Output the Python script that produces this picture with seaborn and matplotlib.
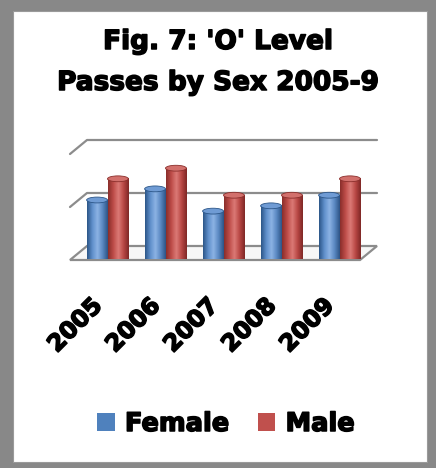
import numpy as np
import pandas as pd
import matplotlib
matplotlib.use("Agg")
import matplotlib.pyplot as plt
import matplotlib.transforms as mtransforms
import matplotlib.patheffects as pe
from matplotlib.path import Path
from matplotlib.patches import PathPatch, Ellipse, Rectangle, Polygon
from matplotlib.lines import Line2D
from matplotlib.colors import LinearSegmentedColormap
import seaborn as sns

# Passes (relative units) per year
years = ["2005", "2006", "2007", "2008", "2009"]
female = [1.00, 1.21, 0.79, 0.89, 1.09]
male = [1.40, 1.60, 1.09, 1.09, 1.40]
series = ["Female", "Male"]
colors = {"Female": "#4F81BD", "Male": "#C0504D"}
shades = {
    "Female": ["#2c5688", "#5f8fcb", "#8cb3e4", "#5a88c2", "#2d5486"],
    "Male": ["#8a2e2b", "#bd4c48", "#dc7a76", "#b84744", "#7f2826"],
}
cap_colors = {"Female": "#6f9bd4", "Male": "#d2706c"}

df = pd.DataFrame({
    "year": years * 2,
    "sex": ["Female"] * len(years) + ["Male"] * len(years),
    "value": female + male,
})

sns.set_style("white")
plt.rcParams["font.family"] = ["DejaVu Sans"]
plt.rcParams["text.color"] = "black"
plt.rcParams["xtick.color"] = "black"

# thicker strokes give the heavy display lettering
heavy = [pe.withStroke(linewidth=1.1, foreground="black")]

W, H = 436, 468
fig = plt.figure(figsize=(W / 100, H / 100), dpi=100)
fig.patch.set_facecolor("#888888")
# white card inside the grey frame
fig.add_artist(Rectangle((13 / W, (H - 462) / H), (427 - 13) / W, (462 - 11) / H,
                         transform=fig.transFigure, facecolor="white",
                         edgecolor="#9a9a9a", linewidth=0.8, zorder=0))

# front plane of the 3-D plot box
x0, x1 = 70, 360
yb, yt = 260, 154
ax = fig.add_axes([x0 / W, (H - yb) / H, (x1 - x0) / W, (yb - yt) / H])
ax.set_facecolor("none")
ax.set_zorder(2)

sns.barplot(data=df, x="year", y="value", hue="sex", hue_order=series,
            palette=colors, width=0.72, gap=0, saturation=1, ax=ax,
            legend=False)
ax.set_ylim(0, 2)
ax.set_xlim(-0.5, len(years) - 0.5)
fx0, fx1 = ax.get_xlim()

def shift(dx, dy):
    return ax.transData + mtransforms.ScaledTranslation(dx / 100, dy / 100, fig.dpi_scale_trans)

depth_x, depth_y = 17, 14
back = shift(depth_x, depth_y)
mid = shift(depth_x / 2, depth_y / 2)
grid_col = "#8c8c8c"

# floor
p_front = [ax.transData.transform((fx0, 0)), ax.transData.transform((fx1, 0))]
p_back = [back.transform((fx0, 0)), back.transform((fx1, 0))]
floor = Polygon([p_front[0], p_front[1], p_back[1], p_back[0]], closed=True,
                transform=mtransforms.IdentityTransform(), facecolor="#f7f7f7",
                edgecolor=grid_col, linewidth=1.6, zorder=1, clip_on=False)
ax.add_artist(floor)

# back-wall gridlines with slanted left ends
for gv in [1, 2]:
    a = ax.transData.transform((fx0, gv))
    b = back.transform((fx0, gv))
    c = back.transform((fx1, gv))
    ax.add_artist(Line2D([a[0], b[0], c[0]], [a[1], b[1], c[1]],
                         transform=mtransforms.IdentityTransform(), color=grid_col,
                         linewidth=1.6, zorder=1, clip_on=False))

# shaded cylinders built from the bar geometry
hue_of = {}
for i, patch in enumerate(ax.patches):
    if i < 2 * len(years):
        hue_of[patch] = series[i // len(years)]

cap_h = 0.11
for patch in list(hue_of):
    sex = hue_of[patch]
    bx, by = patch.get_x(), patch.get_y()
    bw, bh = patch.get_width(), patch.get_height()
    patch.set_visible(False)
    cx = bx + bw / 2
    t = np.linspace(np.pi, 2 * np.pi, 40)
    bottom = [(cx + bw / 2 * np.cos(a), by + cap_h / 2 * np.sin(a)) for a in t]
    verts = [(bx, by + bh)] + bottom + [(bx + bw, by + bh), (bx, by + bh)]
    body = PathPatch(Path(verts), transform=mid, facecolor="none", edgecolor="none")
    ax.add_patch(body)
    cmap = LinearSegmentedColormap.from_list(sex, shades[sex])
    grad = np.linspace(0, 1, 64).reshape(1, -1)
    im = ax.imshow(grad, cmap=cmap, aspect="auto", transform=mid,
                   extent=[bx, bx + bw, by - cap_h, by + bh], zorder=3,
                   interpolation="bilinear", clip_on=False)
    im.set_clip_path(body)
    ax.add_patch(Ellipse((cx, by + bh), bw, cap_h, transform=mid,
                         facecolor=cap_colors[sex], edgecolor=shades[sex][0],
                         linewidth=0.6, zorder=4, clip_on=False))
ax.set_xlim(fx0, fx1)
ax.set_ylim(0, 2)

sns.despine(ax=ax, left=True, bottom=True)
ax.set_yticks([])
ax.set_xlabel("")
ax.set_ylabel("")
ax.tick_params(axis="x", length=0, pad=24)
for lab in ax.get_xticklabels():
    lab.set_rotation(45)
    lab.set_ha("right")
    lab.set_va("top")
    lab.set_rotation_mode("anchor")
    lab.set_fontsize(17)
    lab.set_fontweight("bold")
    lab.set_color("black")
    lab.set_path_effects(heavy)
    lab.set_transform(lab.get_transform() +
                      mtransforms.ScaledTranslation(-9 / 100, 0, fig.dpi_scale_trans))

fig.text(0.5, 1 - 42 / H, "Fig. 7: 'O' Level", ha="center", va="center",
         fontsize=19, fontweight="bold", color="black", path_effects=heavy)
fig.text(0.5, 1 - 83 / H, "Passes by Sex 2005-9", ha="center", va="center",
         fontsize=19, fontweight="bold", color="black", path_effects=heavy)

handles = [Rectangle((0, 0), 1, 1, facecolor=colors[s], edgecolor="none") for s in series]
leg = fig.legend(handles, series, loc="center", bbox_to_anchor=(226 / W, 1 - 424 / H),
                 ncol=2, frameon=False, handlelength=0.68, handleheight=0.68,
                 handletextpad=0.4, columnspacing=1.1,
                 prop={"weight": "bold", "size": 18.5})
for txt in leg.get_texts():
    txt.set_path_effects(heavy)

fig.savefig("out.png", dpi=100, facecolor=fig.get_facecolor())
